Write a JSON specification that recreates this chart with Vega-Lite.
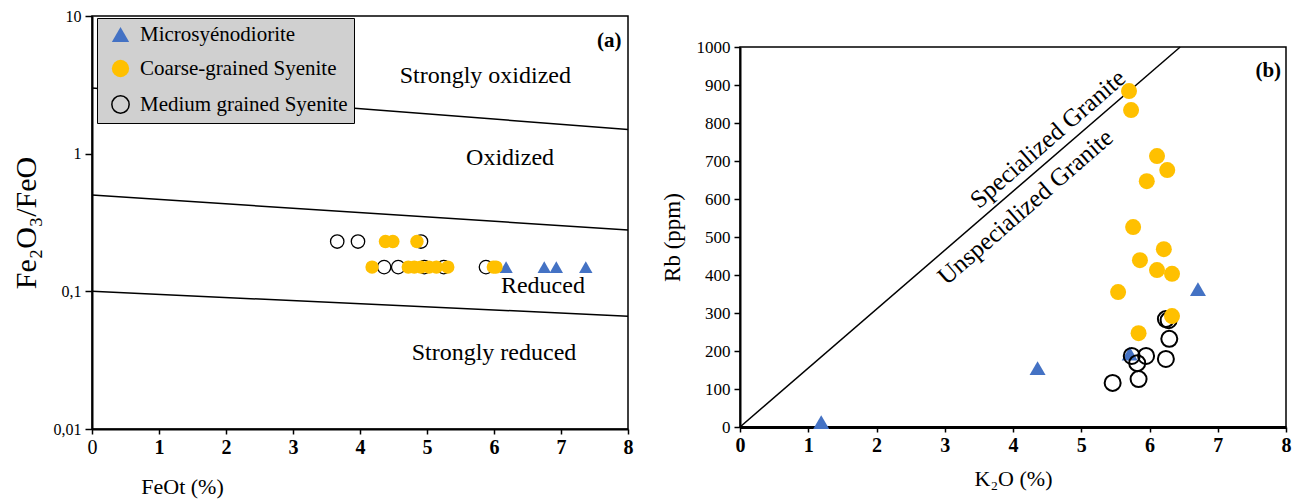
{
  "$schema": "https://vega.github.io/schema/vega-lite/v6.json",
  "background": "white",
  "padding": {"left": 10, "top": 7, "right": 5, "bottom": 5},
  "spacing": 26,
  "config": {
    "font": "Liberation Serif",
    "view": {"stroke": "black", "strokeWidth": 1.5},
    "axis": {
      "grid": false, "domainColor": "black", "domainWidth": 2, "tickColor": "black", "tickWidth": 1.5,
      "labelColor": "black", "titleColor": "black", "labelFont": "Liberation Serif", "titleFont": "Liberation Serif",
      "titleFontWeight": "normal", "labelFlush": false, "labelOverlap": false, "labelBound": false
    },
    "text": {"font": "Liberation Serif", "color": "black"}
  },
  "resolve": {"legend": {"shape": "independent", "fill": "independent", "stroke": "independent"}},
  "datasets": {
    "left": [
      {"x": 6.18, "y": 0.15, "group": "Microsyénodiorite"},
      {"x": 6.75, "y": 0.15, "group": "Microsyénodiorite"},
      {"x": 6.93, "y": 0.15, "group": "Microsyénodiorite"},
      {"x": 7.37, "y": 0.15, "group": "Microsyénodiorite"},
      {"x": 3.66, "y": 0.23, "group": "Medium grained Syenite"},
      {"x": 3.97, "y": 0.23, "group": "Medium grained Syenite"},
      {"x": 4.91, "y": 0.23, "group": "Medium grained Syenite"},
      {"x": 4.36, "y": 0.15, "group": "Medium grained Syenite"},
      {"x": 4.57, "y": 0.15, "group": "Medium grained Syenite"},
      {"x": 4.96, "y": 0.15, "group": "Medium grained Syenite"},
      {"x": 5.25, "y": 0.15, "group": "Medium grained Syenite"},
      {"x": 5.88, "y": 0.15, "group": "Medium grained Syenite"},
      {"x": 4.38, "y": 0.23, "group": "Coarse-grained Syenite"},
      {"x": 4.49, "y": 0.23, "group": "Coarse-grained Syenite"},
      {"x": 4.85, "y": 0.23, "group": "Coarse-grained Syenite"},
      {"x": 4.18, "y": 0.15, "group": "Coarse-grained Syenite"},
      {"x": 4.72, "y": 0.15, "group": "Coarse-grained Syenite"},
      {"x": 4.81, "y": 0.15, "group": "Coarse-grained Syenite"},
      {"x": 4.91, "y": 0.15, "group": "Coarse-grained Syenite"},
      {"x": 5.03, "y": 0.15, "group": "Coarse-grained Syenite"},
      {"x": 5.14, "y": 0.15, "group": "Coarse-grained Syenite"},
      {"x": 5.31, "y": 0.15, "group": "Coarse-grained Syenite"},
      {"x": 5.99, "y": 0.15, "group": "Coarse-grained Syenite"},
      {"x": 6.03, "y": 0.15, "group": "Coarse-grained Syenite"}
    ],
    "right": [
      {"x": 1.19, "y": 13, "group": "Microsyénodiorite"},
      {"x": 4.36, "y": 155, "group": "Microsyénodiorite"},
      {"x": 5.71, "y": 193, "group": "Microsyénodiorite"},
      {"x": 6.71, "y": 363, "group": "Microsyénodiorite"},
      {"x": 6.24, "y": 284, "group": "Medium grained Syenite"},
      {"x": 6.28, "y": 281, "group": "Medium grained Syenite"},
      {"x": 6.29, "y": 232, "group": "Medium grained Syenite"},
      {"x": 5.74, "y": 187, "group": "Medium grained Syenite"},
      {"x": 5.82, "y": 168, "group": "Medium grained Syenite"},
      {"x": 5.95, "y": 187, "group": "Medium grained Syenite"},
      {"x": 6.24, "y": 179, "group": "Medium grained Syenite"},
      {"x": 5.46, "y": 116, "group": "Medium grained Syenite"},
      {"x": 5.84, "y": 126, "group": "Medium grained Syenite"},
      {"x": 5.70, "y": 884, "group": "Coarse-grained Syenite"},
      {"x": 5.73, "y": 834, "group": "Coarse-grained Syenite"},
      {"x": 6.11, "y": 713, "group": "Coarse-grained Syenite"},
      {"x": 6.26, "y": 676, "group": "Coarse-grained Syenite"},
      {"x": 5.96, "y": 647, "group": "Coarse-grained Syenite"},
      {"x": 5.76, "y": 526, "group": "Coarse-grained Syenite"},
      {"x": 6.21, "y": 468, "group": "Coarse-grained Syenite"},
      {"x": 5.86, "y": 439, "group": "Coarse-grained Syenite"},
      {"x": 6.11, "y": 413, "group": "Coarse-grained Syenite"},
      {"x": 6.33, "y": 403, "group": "Coarse-grained Syenite"},
      {"x": 5.54, "y": 355, "group": "Coarse-grained Syenite"},
      {"x": 6.33, "y": 292, "group": "Coarse-grained Syenite"},
      {"x": 5.84, "y": 247, "group": "Coarse-grained Syenite"}
    ],
    "boundsA": [
      {"x": 0, "y": 3, "id": "a"}, {"x": 8, "y": 1.5, "id": "a"},
      {"x": 0, "y": 0.5, "id": "b"}, {"x": 8, "y": 0.279, "id": "b"},
      {"x": 0, "y": 0.1, "id": "c"}, {"x": 8, "y": 0.066, "id": "c"}
    ],
    "labelsA": [
      {"x": 5.87, "y": 3.67, "label": "Strongly oxidized"},
      {"x": 6.24, "y": 0.93, "label": "Oxidized"},
      {"x": 6.73, "y": 0.109, "label": "Reduced"},
      {"x": 6.0, "y": 0.0357, "label": "Strongly reduced"}
    ],
    "boundB": [
      {"x": 0, "y": 0}, {"x": 6.45, "y": 1000}
    ],
    "labelsB": [
      {"x": 4.51, "y": 758, "label": "Specialized Granite"},
      {"x": 4.18, "y": 579, "label": "Unspecialized Granite"}
    ]
  },
  "hconcat": [
    {
      "width": 536,
      "height": 413,
      "encoding": {
        "x": {"field": "x", "type": "quantitative", "scale": {"domain": [0, 8], "nice": false, "zero": false},
          "axis": {"title": "FeOt (%)", "values": [0, 1, 2, 3, 4, 5, 6, 7, 8], "format": "d", "tickSize": 5, "labelPadding": 3,
            "labelFontSize": 20, "labelFontWeight": {"condition": {"test": "datum.value === 0", "value": "normal"}, "value": "bold"},
            "titleFontSize": 22, "titleX": 90, "titleAlign": "center", "titlePadding": 19}},
        "y": {"field": "y", "type": "quantitative", "scale": {"type": "log", "domain": [0.01, 10], "nice": false},
          "axis": {"title": "Fe₂O₃/FeO", "values": [0.01, 0.1, 1, 10], "tickSize": 7, "labelPadding": 4, "labelFontSize": 16,
            "labelExpr": "datum.value >= 10 ? '10' : datum.value >= 1 ? '1' : datum.value >= 0.1 ? '0,1' : '0,01'",
            "titleFontSize": 30, "titlePadding": 12}}
      },
      "layer": [
        {
          "data": {"name": "boundsA"},
          "mark": {"type": "line", "color": "black", "strokeWidth": 1.5},
          "encoding": {"detail": {"field": "id"}}
        },
        {
          "data": {"name": "left"},
          "mark": {"type": "point", "size": 180, "strokeWidth": 1.3, "opacity": 1},
          "encoding": {
            "shape": {"field": "group", "type": "nominal",
              "scale": {"domain": ["Microsyénodiorite", "Coarse-grained Syenite", "Medium grained Syenite"], "range": ["triangle-up", "circle", "circle"]},
              "legend": {"title": null, "orient": "none", "legendX": 5, "legendY": 2, "padding": 6, "fillColor": "#d0d0d0", "strokeColor": "black",
                "labelFontSize": 21, "labelFont": "Liberation Serif", "labelColor": "black", "labelLimit": 400, "symbolSize": 300, "symbolOffset": 7, "labelOffset": 9, "rowPadding": 11,
                "symbolStrokeWidth": 1.5, "labelExpr": "datum.label + '\u2002\u2002'"}},
            "fill": {"field": "group", "type": "nominal",
              "scale": {"domain": ["Microsyénodiorite", "Coarse-grained Syenite", "Medium grained Syenite"], "range": ["#4472C4", "#FFC000", "transparent"]},
              "legend": {"title": null, "orient": "none", "legendX": 5, "legendY": 2, "padding": 6, "fillColor": "#d0d0d0", "strokeColor": "black",
                "labelFontSize": 21, "labelFont": "Liberation Serif", "labelColor": "black", "labelLimit": 400, "symbolSize": 300, "symbolOffset": 7, "labelOffset": 9, "rowPadding": 11,
                "symbolStrokeWidth": 1.5, "labelExpr": "datum.label + '\u2002\u2002'"}},
            "stroke": {"field": "group", "type": "nominal",
              "scale": {"domain": ["Microsyénodiorite", "Coarse-grained Syenite", "Medium grained Syenite"], "range": ["transparent", "transparent", "black"]},
              "legend": {"title": null, "orient": "none", "legendX": 5, "legendY": 2, "padding": 6, "fillColor": "#d0d0d0", "strokeColor": "black",
                "labelFontSize": 21, "labelFont": "Liberation Serif", "labelColor": "black", "labelLimit": 400, "symbolSize": 300, "symbolOffset": 7, "labelOffset": 9, "rowPadding": 11,
                "symbolStrokeWidth": 1.5, "labelExpr": "datum.label + '\u2002\u2002'"}}
          }
        },
        {
          "data": {"name": "labelsA"},
          "mark": {"type": "text", "fontSize": 24, "baseline": "middle", "align": "center"},
          "encoding": {"text": {"field": "label"}}
        },
        {
          "data": {"values": [{"x": 7.72, "y": 6.6, "label": "(a)"}]},
          "mark": {"type": "text", "fontSize": 21, "fontWeight": "bold", "baseline": "middle", "align": "center"},
          "encoding": {"text": {"field": "label"}}
        }
      ]
    },
    {
      "spacing": 0,
      "vconcat": [
        {
          "width": 546,
          "height": 21,
          "view": {"stroke": null},
          "data": {"values": [{"t": ""}]},
          "mark": {"type": "text"},
          "encoding": {"text": {"field": "t"}}
        },
        {
          "width": 546,
          "height": 380,
          "encoding": {
            "x": {"field": "x", "type": "quantitative", "scale": {"domain": [0, 8], "nice": false},
              "axis": {"title": "K₂O (%)", "values": [0, 1, 2, 3, 4, 5, 6, 7, 8], "format": "d", "tickSize": 5, "labelPadding": 3,
                "labelFontSize": 20, "labelFontWeight": "bold", "domainWidth": 3, "titleFontSize": 22, "titlePadding": 13}},
            "y": {"field": "y", "type": "quantitative", "scale": {"domain": [0, 1000], "nice": false},
              "axis": {"title": "Rb (ppm)", "values": [0, 100, 200, 300, 400, 500, 600, 700, 800, 900, 1000], "format": "d", "tickSize": 6, "labelPadding": 4,
                "labelFontSize": 17, "titleFontSize": 23, "titlePadding": 12}}
          },
          "layer": [
            {
              "data": {"name": "boundB"},
              "mark": {"type": "line", "color": "black", "strokeWidth": 1.5},
              "encoding": {}
            },
            {
              "data": {"name": "right"},
              "mark": {"type": "point", "size": 256, "strokeWidth": 2, "opacity": 1},
              "encoding": {
                "shape": {"field": "group", "type": "nominal", "legend": null},
                "fill": {"field": "group", "type": "nominal", "legend": null},
                "stroke": {"field": "group", "type": "nominal", "legend": null}
              }
            },
            {
              "data": {"name": "labelsB"},
              "mark": {"type": "text", "fontSize": 25, "angle": -41, "baseline": "middle", "align": "center"},
              "encoding": {"text": {"field": "label"}}
            },
            {
              "data": {"values": [{"x": 7.74, "y": 937, "label": "(b)"}]},
              "mark": {"type": "text", "fontSize": 21, "fontWeight": "bold", "baseline": "middle", "align": "center"},
              "encoding": {"text": {"field": "label"}}
            }
          ]
        }
      ]
    }
  ]
}
